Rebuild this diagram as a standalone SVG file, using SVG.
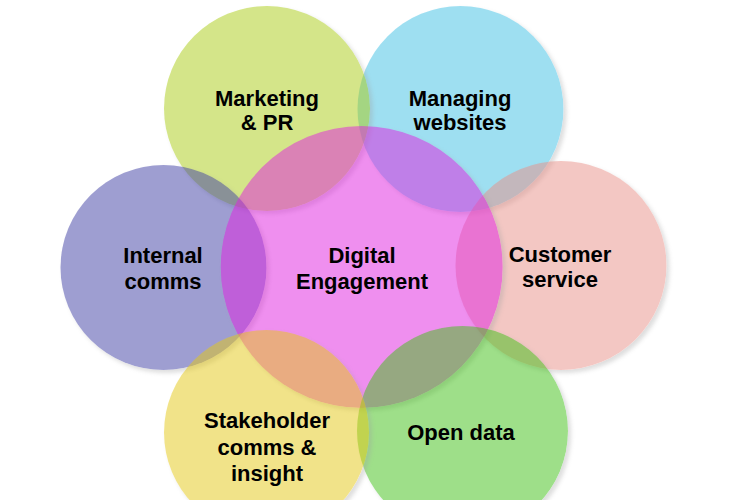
<svg xmlns="http://www.w3.org/2000/svg" width="734" height="500" viewBox="0 0 734 500">
<style>
.c{opacity:0.5;filter:url(#sh)}
.t{font-family:"Liberation Sans",Arial,sans-serif;font-weight:bold;font-size:22px;fill:#000;text-anchor:middle}
</style>
<defs>
<filter id="sh" x="-10%" y="-10%" width="125%" height="125%">
<feGaussianBlur in="SourceAlpha" stdDeviation="2"/>
<feOffset dx="3" dy="3" result="b"/>
<feComposite in="b" in2="SourceAlpha" operator="out" result="o"/>
<feColorMatrix in="o" type="matrix" values="0 0 0 0 0.35 0 0 0 0 0.35 0 0 0 0 0.35 0 0 0 0.7 0" result="s"/>
<feMerge><feMergeNode in="s"/><feMergeNode in="SourceGraphic"/></feMerge>
</filter>
</defs>
<rect width="734" height="500" fill="#fff"/>
<g id="connectors"></g>
<g id="managing-websites">
<ellipse class="c" cx="460.5" cy="109" rx="103" ry="103" fill="#41c1e5"/>
<text class="t" x="460" y="106">Managing</text>
<text class="t" x="460" y="130">websites</text>
</g>
<g id="marketing-pr">
<ellipse class="c" cx="267" cy="108.5" rx="103" ry="102.5" fill="#abcd13"/>
<text class="t" x="267" y="106">Marketing</text>
<text class="t" x="267" y="130">&amp; PR</text>
</g>
<g id="internal-comms">
<ellipse class="c" cx="163.5" cy="267.5" rx="103" ry="102.5" fill="#4141a5"/>
<text class="t" x="163" y="263">Internal</text>
<text class="t" x="163" y="289">comms</text>
</g>
<g id="customer-service">
<ellipse class="c" cx="561" cy="265.5" rx="105.5" ry="104.5" fill="#e99189"/>
<text class="t" x="560" y="262">Customer</text>
<text class="t" x="560" y="287">service</text>
</g>
<g id="digital-engagement">
<ellipse class="c" cx="361.7" cy="267" rx="141" ry="141" fill="#e121e1"/>
<text class="t" x="362" y="263">Digital</text>
<text class="t" x="362" y="289">Engagement</text>
</g>
<g id="open-data">
<ellipse class="c" cx="462.5" cy="431" rx="105.5" ry="105" fill="#41c115"/>
<text class="t" x="461" y="440">Open data</text>
</g>
<g id="stakeholder-comms">
<ellipse class="c" cx="266.5" cy="432.5" rx="102.5" ry="102.5" fill="#e5c919"/>
<text class="t" x="267" y="428">Stakeholder</text>
<text class="t" x="267" y="455">comms &amp;</text>
<text class="t" x="267" y="481">insight</text>
</g>
</svg>
